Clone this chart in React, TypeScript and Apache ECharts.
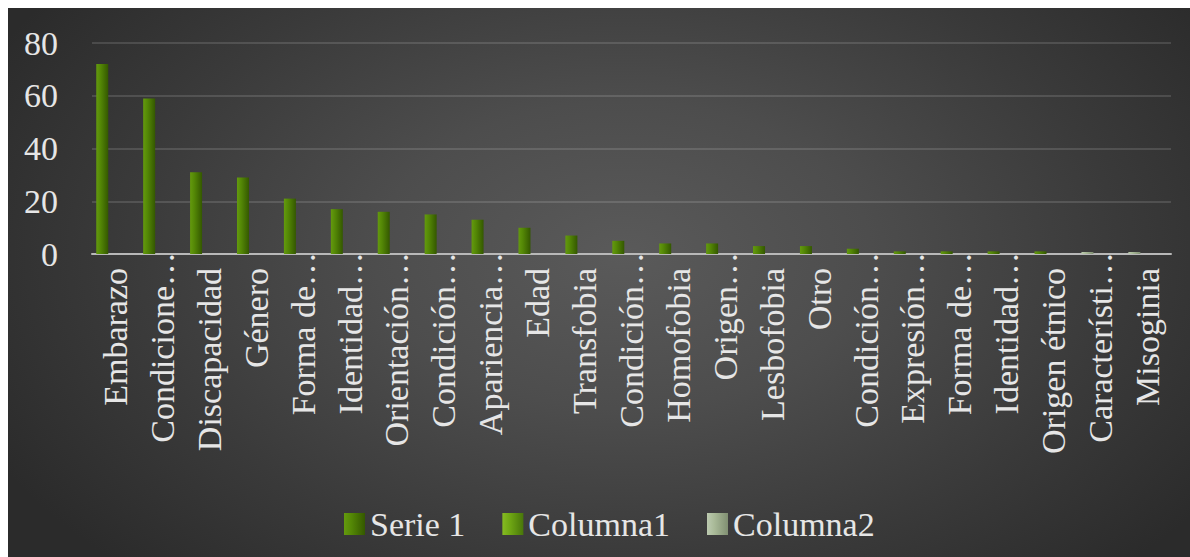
import React, { useEffect, useRef } from "react";
import * as echarts from "echarts";

const categories: string[] = [
  "Embarazo",
  "Condicione…",
  "Discapacidad",
  "Género",
  "Forma de…",
  "Identidad…",
  "Orientación…",
  "Condición…",
  "Apariencia…",
  "Edad",
  "Transfobia",
  "Condición…",
  "Homofobia",
  "Origen…",
  "Lesbofobia",
  "Otro",
  "Condición…",
  "Expresión…",
  "Forma de…",
  "Identidad…",
  "Origen étnico",
  "Característi…",
  "Misoginia",
];

const serie1: number[] = [72, 59, 31, 29, 21, 17, 16, 15, 13, 10, 7, 5, 4, 4, 3, 3, 2, 1, 1, 1, 1, 0, 0];
const columna1: (number | null)[] = [];
const columna2: (number | null)[] = [];

const yTicks = { min: 0, max: 80, interval: 20 };
const legendNames = ["Serie 1", "Columna1", "Columna2"];

const FONT = "Liberation Serif";
const TEXT = "#e6e6e6";
const FS = 34;

export default function App() {
  const ref = useRef<HTMLDivElement>(null);

  useEffect(() => {
    if (!ref.current) return;
    const chart = echarts.init(ref.current, undefined, { renderer: "svg" });

    const cyl = (a: string, b: string, c: string) =>
      new echarts.graphic.LinearGradient(0, 0, 1, 0, [
        { offset: 0, color: a },
        { offset: 0.35, color: b },
        { offset: 1, color: c },
      ]);

    const s1Color = cyl("#649a0e", "#548806", "#345800");
    const c1Color = cyl("#86bc22", "#70a814", "#48760a");
    const c2Color = cyl("#bccab0", "#a9ba98", "#808f72");

    const s1Data = serie1.map((v) =>
      v === 0 ? { value: v, itemStyle: { color: c2Color } } : v
    );

    const base = { color: TEXT, fontSize: FS, fontFamily: FONT };

    chart.setOption({
      animation: false,
      backgroundColor: "transparent",
      textStyle: { fontFamily: FONT },
      grid: { left: 84, right: 19, top: 35, bottom: 303, containLabel: false },
      legend: {
        data: legendNames,
        left: 331,
        top: 494,
        itemWidth: 21,
        itemHeight: 22,
        itemGap: 37,
        icon: "rect",
        formatter: (name: string) => `{a|${name}}`,
        textStyle: { ...base, rich: { a: { ...base } } },
      },
      xAxis: {
        type: "category",
        data: categories,
        axisTick: { show: false },
        axisLine: { show: true, lineStyle: { color: "#b8b8b8", width: 2 } },
        axisLabel: {
          interval: 0,
          rotate: 90,
          margin: -2,
          ...base,
          formatter: (v: string) => (v.endsWith("…") ? `{e|${v}}` : `{n|${v}}`),
          rich: {
            e: { ...base, padding: [0, 0, 0, 0] },
            n: { ...base, padding: [0, 16, 0, 0] },
          },
        },
      },
      yAxis: {
        type: "value",
        min: yTicks.min,
        max: yTicks.max,
        interval: yTicks.interval,
        axisLine: { show: false },
        axisTick: { show: false },
        axisLabel: {
          ...base,
          margin: 34,
          formatter: (v: number) => `{a|${v}}`,
          rich: { a: { ...base } },
        },
        splitLine: { lineStyle: { color: "rgba(255,255,255,0.13)", width: 2 } },
      },
      series: [
        {
          name: legendNames[0],
          type: "bar",
          data: s1Data,
          barWidth: 12,
          barGap: "10%",
          barMinHeight: 2,
          itemStyle: { color: s1Color },
        },
        {
          name: legendNames[1],
          type: "bar",
          data: columna1,
          barWidth: 12,
          barGap: "10%",
          itemStyle: { color: c1Color },
        },
        {
          name: legendNames[2],
          type: "bar",
          data: columna2,
          barWidth: 12,
          barGap: "10%",
          itemStyle: { color: c2Color },
        },
      ],
    });

    return () => chart.dispose();
  }, []);

  return (
    <div
      ref={ref}
      style={{
        position: "absolute",
        left: 8,
        top: 8,
        width: 1182,
        height: 549,
        background:
          "radial-gradient(ellipse 60% 80% at 52% 45%, #5a5a5a 0%, #4d4d4d 35%, #3a3a3a 70%, #2b2b2b 100%)",
      }}
    />
  );
}
